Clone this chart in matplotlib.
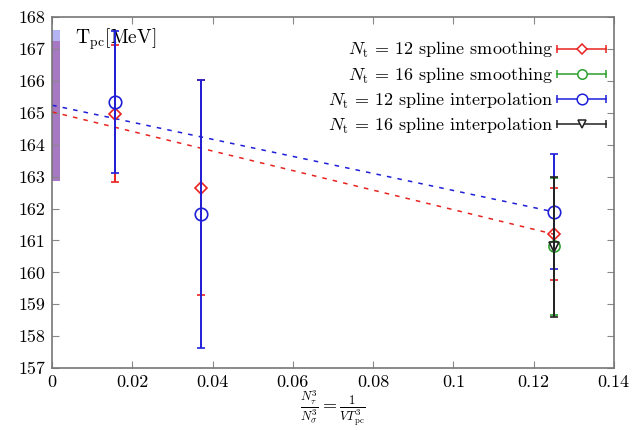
import matplotlib
matplotlib.use("Agg")
import matplotlib.pyplot as plt
import numpy as np
from matplotlib.lines import Line2D
from matplotlib.legend_handler import HandlerBase
from matplotlib.ticker import FuncFormatter, MultipleLocator

plt.rcParams['font.family'] = ['cmr10', 'DejaVu Serif']
plt.rcParams['mathtext.fontset'] = 'cm'
plt.rcParams['axes.unicode_minus'] = False
plt.rcParams['axes.formatter.use_mathtext'] = True

# N_t = 12 spline smoothing
s12_x = [0.015625, 0.037037, 0.125]
s12_y = [164.98, 162.65, 161.2]
s12_e = [2.15, 3.37, 1.45]
# N_t = 16 spline smoothing
s16_x = [0.125]
s16_y = [160.82]
s16_e = [2.15]
# N_t = 12 spline interpolation
i12_x = [0.015625, 0.037037, 0.125]
i12_y = [165.35, 161.82, 161.9]
i12_e = [2.22, 4.2, 1.8]
# N_t = 16 spline interpolation
i16_x = [0.125]
i16_y = [160.8]
i16_e = [2.2]

# linear extrapolations (value at x=0, value at x=0.125)
fit_red = [165.03, 161.2]
fit_blue = [165.24, 161.9]
fit_x = [0.0, 0.125]

# continuum band at x=0
band_red = [162.85, 167.25]
band_blue = [162.9, 167.6]
band_w = 0.0019

labels = [r'$N_{\rm t}$ = 12 spline smoothing',
          r'$N_{\rm t}$ = 16 spline smoothing',
          r'$N_{\rm t}$ = 12 spline interpolation',
          r'$N_{\rm t}$ = 16 spline interpolation']
colors = ['#e8231f', '#2ca02c', '#1f1fd8', '#222222']
markers = ['D', 'o', 'o', 'v']
msizes = [6, 8, 9, 7]


class HandlerBar(HandlerBase):
    def create_artists(self, legend, orig, xd, yd, w, h, fs, trans):
        y = h / 2 - yd
        x0 = -xd
        x1 = -xd + w
        c = orig.get_color()
        ln = Line2D([x0, x1], [y, y], color=c, lw=1.1, marker='|', ms=6,
                    mew=1.1, transform=trans)
        mk = Line2D([(x0 + x1) / 2], [y], color=c, marker=orig.get_marker(),
                    ms=orig.get_markersize() * 0.85, mfc='white', mew=1.1,
                    ls='none', transform=trans)
        return [ln, mk]


fig = plt.figure(figsize=(6.36, 4.30), dpi=100)
ax = fig.add_axes([0.082, 0.144, 0.883, 0.816])

ax.fill_betweenx(band_blue, 0, band_w, color='#b4b4f2', lw=0, zorder=1)
ax.fill_betweenx(band_red, 0, band_w, color='#a679c2', lw=0, zorder=1)

fx = np.array(fit_x)
ax.plot(fx, fit_red, color=colors[0], ls=(0, (3, 4)), lw=1.1, zorder=2)
ax.plot(fx, fit_blue, color=colors[2], ls=(0, (3, 4)), lw=1.1, zorder=2)

series = [(s12_x, s12_y, s12_e), (s16_x, s16_y, s16_e),
          (i12_x, i12_y, i12_e), (i16_x, i16_y, i16_e)]
for k, (xs, ys, es) in enumerate(series):
    ax.errorbar(xs, ys, yerr=es, color=colors[k], marker=markers[k],
                ms=msizes[k], mfc='none', mew=1.2, lw=1.4, capsize=3,
                capthick=1.2, ls='none', zorder=3 + k)

proxies = [Line2D([], [], color=colors[k], marker=markers[k], ms=msizes[k])
           for k in range(4)]
ax.legend(proxies, labels, loc='upper right', bbox_to_anchor=(1.012, 0.975),
          markerfirst=False, frameon=False, fontsize=13, handlelength=2.7,
          handletextpad=0.25, labelspacing=0.28, borderaxespad=0.4,
          handler_map={Line2D: HandlerBar()})

ax.set_xlim(0, 0.14)
ax.set_ylim(157, 168)
ax.xaxis.set_major_locator(MultipleLocator(0.02))
ax.yaxis.set_major_locator(MultipleLocator(1))
ax.xaxis.set_major_formatter(FuncFormatter(lambda v, p: '%g' % round(v, 4)))
ax.yaxis.set_major_formatter(FuncFormatter(lambda v, p: '%d' % round(v)))
ax.tick_params(direction='in', top=True, right=True, length=5,
               labelsize=13, color='#888888', pad=5)
for sp in ax.spines.values():
    sp.set_color('#777777')
    sp.set_linewidth(1.2)

ax.text(0.0058, 167.3, r'$\mathrm{T_{pc}[MeV]}$', fontsize=14, va='center')
fig.text(333 / 636, 1 - 409 / 430,
         r'$\frac{N_\tau^3}{N_\sigma^3} = \frac{1}{VT_{\rm pc}^3}$',
         fontsize=13, ha='center', va='center')

fig.savefig('out.png', dpi=100)
